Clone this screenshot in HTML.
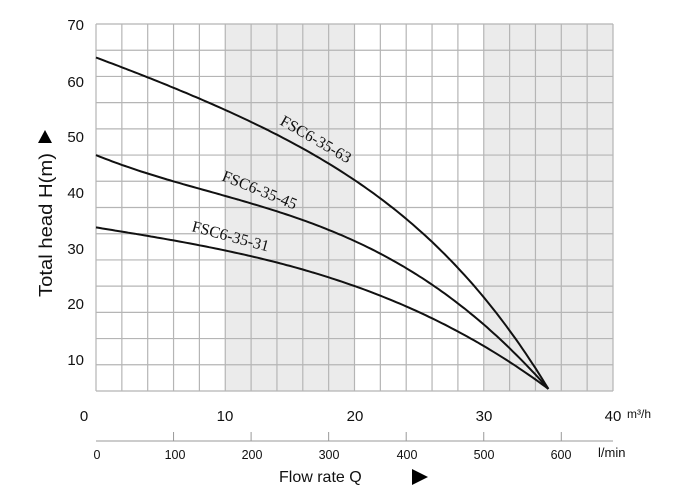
<!DOCTYPE html>
<html><head><style>
body{margin:0;background:#fff;width:700px;height:495px;overflow:hidden}
svg{display:block}
text{font-family:"Liberation Sans",Arial,sans-serif;fill:#111}
.s{font-family:"Liberation Serif",serif;font-size:16px}
</style></head><body>
<svg id="c" width="700" height="495" xmlns="http://www.w3.org/2000/svg">
<rect x="225.3" y="24" width="129.3" height="367" fill="#ebebeb"/>
<rect x="483.9" y="24" width="129.1" height="367" fill="#ebebeb"/>
<g id="grid" stroke="#b5b5b5" stroke-width="1.2"></g>
<g id="curves" fill="none" stroke="#111" stroke-width="2"></g>
<g font-size="15">
<text x="84" y="30" text-anchor="end">70</text>
<text x="84" y="87" text-anchor="end">60</text>
<text x="84" y="142" text-anchor="end">50</text>
<text x="84" y="198" text-anchor="end">40</text>
<text x="84" y="254" text-anchor="end">30</text>
<text x="84" y="309" text-anchor="end">20</text>
<text x="84" y="365" text-anchor="end">10</text>
<text x="84" y="421" text-anchor="middle">0</text>
<text x="225" y="421" text-anchor="middle">10</text>
<text x="355" y="421" text-anchor="middle">20</text>
<text x="484" y="421" text-anchor="middle">30</text>
<text x="613" y="421" text-anchor="middle">40</text>
</g>
<text x="627" y="418" font-size="12">m³/h</text>
<line x1="96" y1="441" x2="613" y2="441" stroke="#bbb" stroke-width="1.5"/>
<g id="lt" stroke="#999" stroke-width="1"></g>
<g font-size="12.5" text-anchor="middle">
<text x="97" y="459">0</text><text x="175" y="459">100</text><text x="252" y="459">200</text>
<text x="329" y="459">300</text><text x="407" y="459">400</text><text x="484" y="459">500</text><text x="561" y="459">600</text>
</g>
<text x="598" y="457" font-size="13">l/min</text>
<text x="279" y="482" font-size="16">Flow rate Q</text>
<polygon points="412,469 412,485 428,477" fill="#000"/>
<text transform="translate(52,297) rotate(-90)" font-size="18" textLength="144" lengthAdjust="spacingAndGlyphs">Total head H(m)</text>
<polygon points="38,143 52,143 45,130" fill="#000"/>
<text class="s" transform="translate(279,124) rotate(30)">FSC6-35-63</text>
<text class="s" transform="translate(221,180) rotate(22)">FSC6-35-45</text>
<text class="s" transform="translate(191,231) rotate(15)">FSC6-35-31</text>
</svg>
<script>
var NS="http://www.w3.org/2000/svg";
function el(p,t,a){var e=document.createElementNS(NS,t);for(var k in a)e.setAttribute(k,a[k]);p.appendChild(e);}
var g=document.getElementById("grid");
for(var i=0;i<=20;i++){var x=96+i*517/20;el(g,"line",{x1:x,y1:24,x2:x,y2:391});}
for(var j=0;j<=14;j++){var y=24+j*367/14;el(g,"line",{x1:96,y1:y,x2:613,y2:y});}
var lt=document.getElementById("lt");
for(var k=1;k<=6;k++){var x=96+k*6*12.925;el(lt,"line",{x1:x,y1:441,x2:x,y2:432});}
function solve(A,b){var n=b.length;for(var i=0;i<n;i++){for(var r=i+1;r<n;r++){var f=A[r][i]/A[i][i];for(var c=i;c<n;c++)A[r][c]-=f*A[i][c];b[r]-=f*b[i];}}var x=[];for(var i=n-1;i>=0;i--){var s=b[i];for(var c=i+1;c<n;c++)s-=A[i][c]*x[c];x[i]=s/A[i][i];}return x;}
var cv=document.getElementById("curves");
function curve(H0,pts){var A=[],b=[],n=pts.length;pts.forEach(function(p){var row=[];for(var k=1;k<=n;k++)row.push(Math.pow(p[0],k));A.push(row);b.push(H0-p[1]);});var co=solve(A,b);
var d="";for(var q=0;q<=35.001;q+=0.25){var h=H0;for(var k=0;k<n;k++)h-=co[k]*Math.pow(q,k+1);var x=96+q*12.925,y=391-h*5.243;d+=(q?"L":"M")+x.toFixed(1)+","+y.toFixed(1);}el(cv,"path",{d:d});}
curve(63.6,[[10,53.6],[20.2,39.9],[29.2,20.2],[35,0.4]]);
curve(45.0,[[10,37.2],[21.2,27.2],[26.4,19.6],[35,0.4]]);
curve(31.2,[[10,26.8],[20.7,19.4],[35,0.4]]);
</script>
</body></html>
